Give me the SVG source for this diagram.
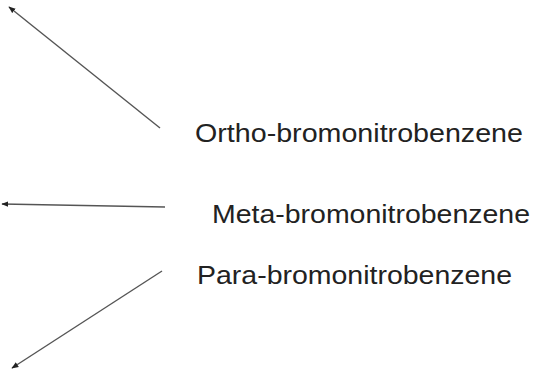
<svg xmlns="http://www.w3.org/2000/svg" width="539" height="370" viewBox="0 0 539 370">
<defs>
<marker id="ah" viewBox="0 0 10 10" refX="9" refY="5" markerWidth="7" markerHeight="7" orient="auto" markerUnits="userSpaceOnUse">
<path d="M0,1 L10,5 L0,9 z" fill="#222"/>
</marker>
<style>
.lbl{font-family:"Liberation Sans",Arial,sans-serif;font-size:25px;fill:#222}
.conn{stroke:#555;stroke-width:1.4;fill:none;marker-end:url(#ah)}
</style>
</defs>
<rect width="539" height="370" fill="#fff"/>
<g id="connectors">
<line class="conn" x1="160" y1="128" x2="9" y2="7"/>
<line class="conn" x1="165" y1="207" x2="2" y2="204"/>
<line class="conn" x1="162" y1="271" x2="12" y2="368"/>
</g>
<g id="ortho"><text class="lbl" x="195" y="142" textLength="328" lengthAdjust="spacingAndGlyphs">Ortho-bromonitrobenzene</text></g>
<g id="meta"><text class="lbl" x="212" y="223" textLength="318" lengthAdjust="spacingAndGlyphs">Meta-bromonitrobenzene</text></g>
<g id="para"><text class="lbl" x="197" y="284" textLength="315" lengthAdjust="spacingAndGlyphs">Para-bromonitrobenzene</text></g>
</svg>
